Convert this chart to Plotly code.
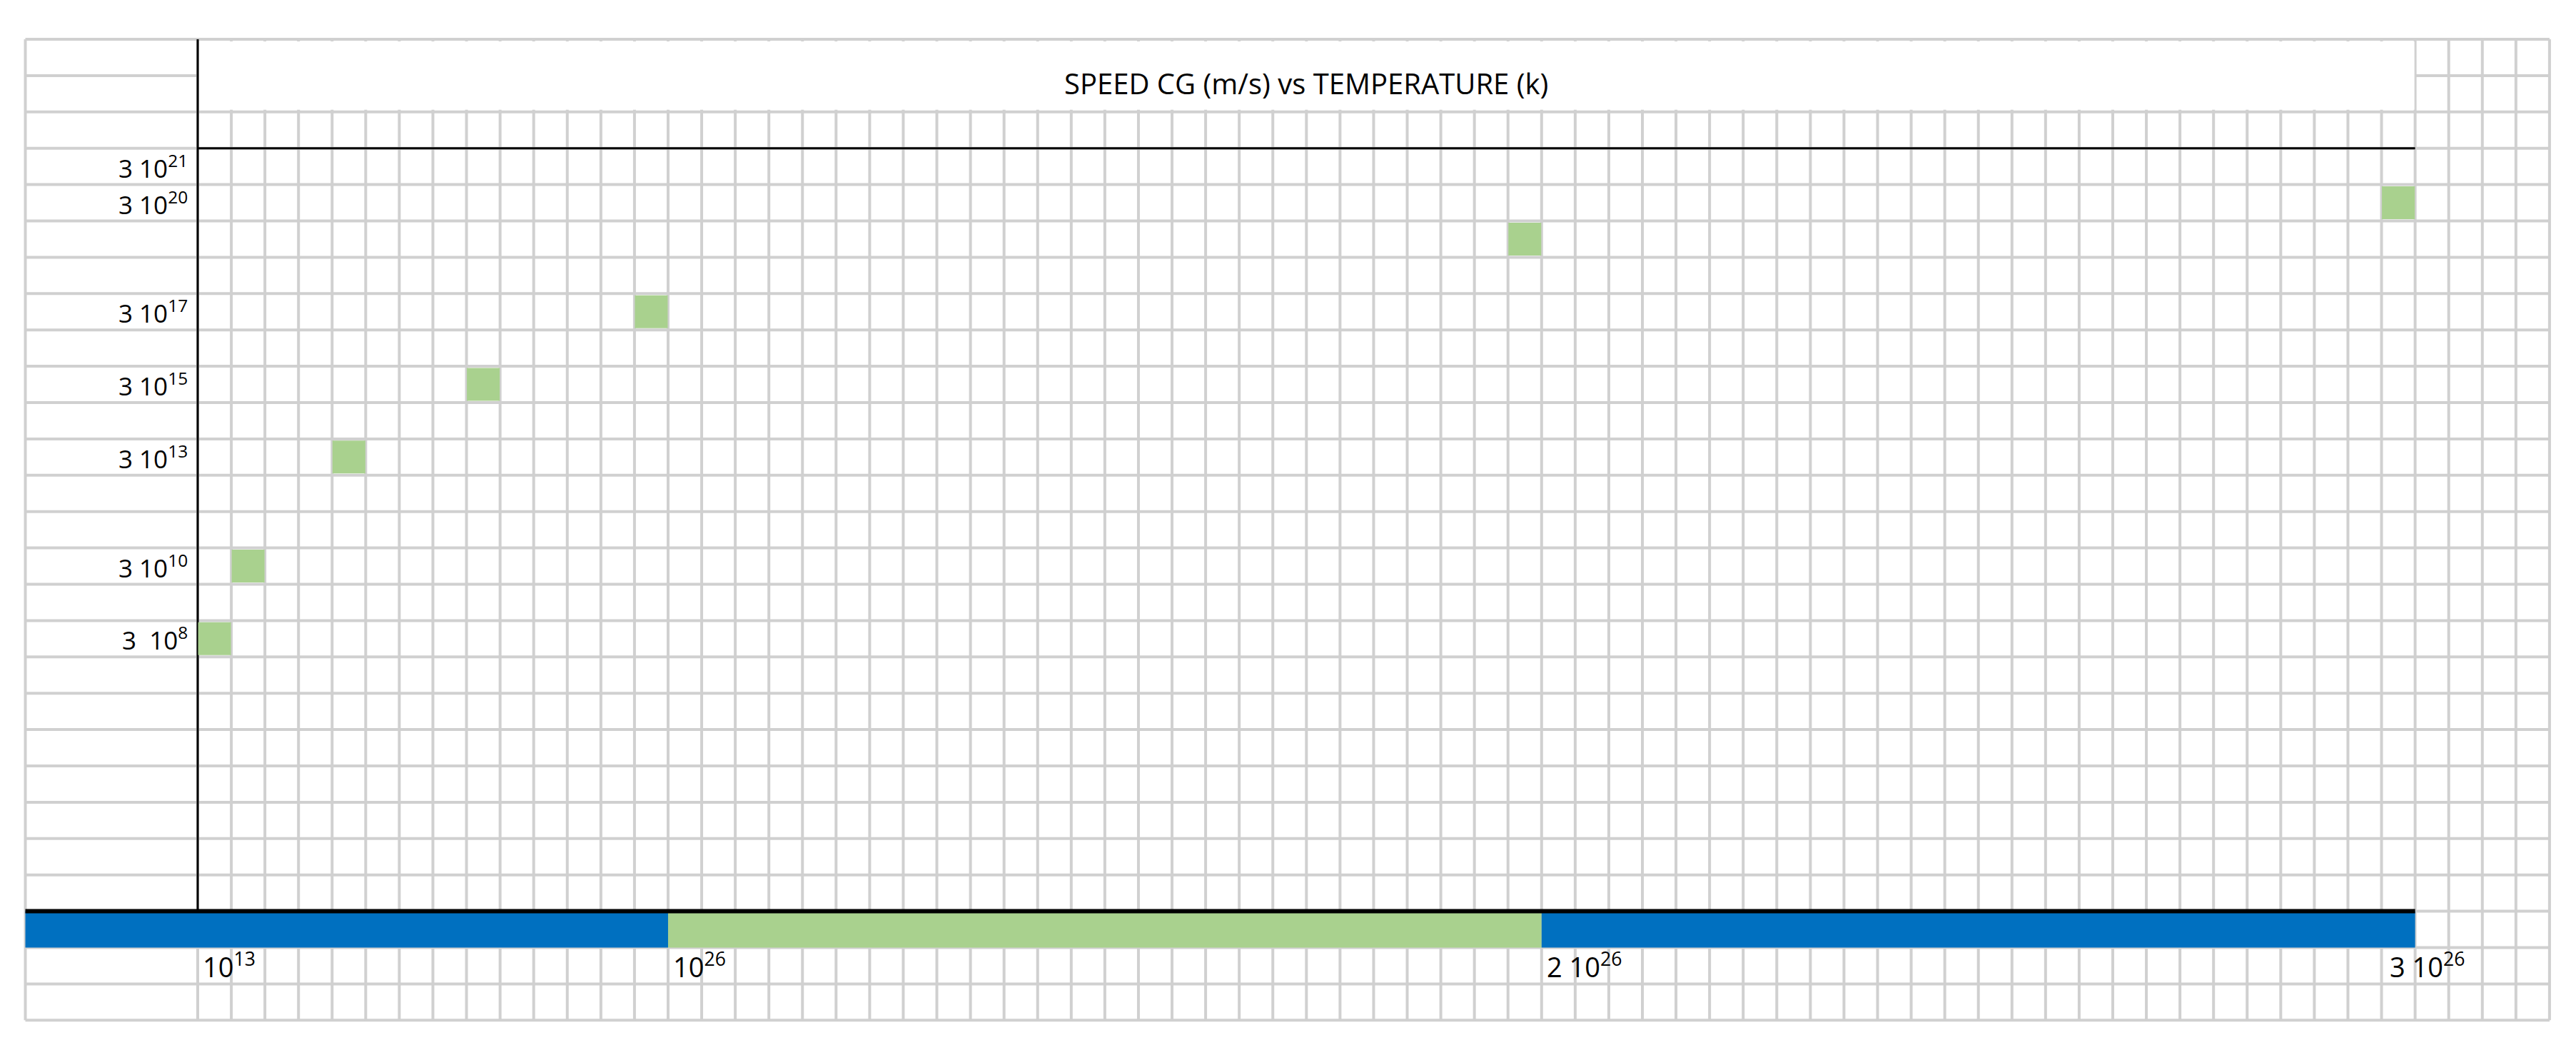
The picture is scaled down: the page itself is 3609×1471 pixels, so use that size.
import plotly.graph_objects as go

# ---- data (grid units: columns from the y axis, rows from the top of the sheet) ----
point_cols = [0, 1, 4, 8, 13, 39, 65]
point_rows = [16, 14, 11, 9, 7, 5, 4]
ylabel_rows = [3, 4, 7, 9, 11, 14, 16]
ylabel_text = ["3 10<sup>21</sup>", "3 10<sup>20</sup>", "3 10<sup>17</sup>", "3 10<sup>15</sup>",
               "3 10<sup>13</sup>", "3 10<sup>10</sup>", "3  10<sup>8</sup>"]
xlabel_cols = [0.1, 14.1, 40.1, 65.2]
xlabel_text = ["10<sup>13</sup>", "10<sup>26</sup>", "2 10<sup>26</sup>", "3 10<sup>26</sup>"]
band_edges = [-5.13, 14, 40, 66]
band_colors = ["#0070C0", "#A9D18E", "#0070C0"]
title = "SPEED CG (m/s) vs TEMPERATURE (k)"

W, H = 3609, 1471
X0, CW = 269.0, 47.07
Y0, RH = 47.0, 50.9
XL = 27.5
NCOL, NROW = 70, 27
GRID = "#D0D0D0"

def px(c): return X0 + c * CW
def py(r): return Y0 + r * RH

shapes = []
for r in range(NROW + 1):
    shapes.append(dict(type="line", x0=XL, x1=px(NCOL), y0=py(r), y1=py(r),
                       line=dict(color=GRID, width=4), layer="below"))
for k in [-5.13] + list(range(NCOL + 1)):
    shapes.append(dict(type="line", x0=px(k), x1=px(k), y0=py(0), y1=py(NROW),
                       line=dict(color=GRID, width=4), layer="below"))
# white title area
shapes.append(dict(type="rect", x0=px(0) + 2, x1=px(66) - 1, y0=py(0) + 3, y1=py(2) - 3,
                   fillcolor="white", line=dict(width=0), layer="below"))
# colour bands
for i, col in enumerate(band_colors):
    shapes.append(dict(type="rect", x0=px(band_edges[i]), x1=px(band_edges[i + 1]),
                       y0=py(24), y1=py(25), fillcolor=col, line=dict(width=0), layer="below"))
# black axes lines
shapes.append(dict(type="line", x0=px(0), x1=px(0), y0=py(0), y1=py(24),
                   line=dict(color="black", width=3), layer="below"))
shapes.append(dict(type="line", x0=px(0), x1=px(66), y0=py(3), y1=py(3),
                   line=dict(color="black", width=3), layer="below"))
shapes.append(dict(type="line", x0=XL, x1=px(66), y0=py(24), y1=py(24),
                   line=dict(color="black", width=6), layer="below"))

fig = go.Figure()
fig.add_trace(go.Scatter(
    x=[px(c + 0.5) for c in point_cols], y=[py(r + 0.5) for r in point_rows],
    mode="markers", marker=dict(symbol="square", size=46, color="#A9D18E", line=dict(width=0)),
    hoverinfo="skip", showlegend=False))

ann = [dict(x=px(33), y=py(1.2), text=title, showarrow=False,
            font=dict(size=40, color="black"), xanchor="center", yanchor="middle")]
for r, t in zip(ylabel_rows, ylabel_text):
    ann.append(dict(x=px(-0.25), y=py(r + 0.5), text=t, showarrow=False,
                    font=dict(size=35, color="black"), xanchor="right", yanchor="middle"))
for c, t in zip(xlabel_cols, xlabel_text):
    ann.append(dict(x=px(c), y=py(25.5), text=t, showarrow=False,
                    font=dict(size=38, color="black"), xanchor="left", yanchor="middle"))

fig.update_layout(
    width=W, height=H, margin=dict(l=0, r=0, t=0, b=0),
    paper_bgcolor="white", plot_bgcolor="white",
    xaxis=dict(range=[0, W], visible=False, fixedrange=True),
    yaxis=dict(range=[H, 0], visible=False, fixedrange=True),
    shapes=shapes, annotations=ann,
    font=dict(family="Open Sans, Liberation Sans, sans-serif"))
fig.write_html("out.html")
